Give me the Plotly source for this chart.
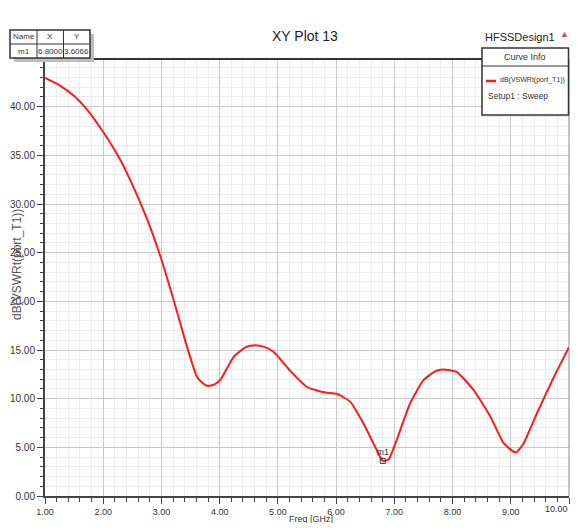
import plotly.graph_objects as go

# Sweep data
freq_ghz = [1.00, 1.25, 1.50, 1.75, 2.00, 2.25, 2.50, 2.75, 3.00, 3.25, 3.44, 3.61,
            3.72, 3.81, 3.92, 4.02, 4.24, 4.45, 4.61, 4.78, 4.93, 5.22, 5.50, 5.79,
            6.01, 6.24, 6.47, 6.70, 6.80, 6.90, 7.04, 7.27, 7.50, 7.70, 7.84, 8.07,
            8.36, 8.65, 8.88, 9.05, 9.10, 9.22, 9.45, 9.73, 10.00]
vswr_db = [42.95, 42.2, 41.1, 39.5, 37.4, 35.0, 32.0, 28.5, 24.3, 19.3, 15.3, 12.25,
           11.55, 11.3, 11.5, 12.0, 14.3, 15.3, 15.5, 15.3, 14.8, 12.8, 11.2, 10.65,
           10.5, 9.7, 7.45, 4.7, 3.6066, 3.75, 5.75, 9.5, 11.9, 12.8, 13.0, 12.75,
           10.9, 8.15, 5.4, 4.55, 4.5, 5.4, 8.5, 12.1, 15.3]

marker_name = "m1"
marker_x = 6.80
marker_y = 3.6066

x_ticks = [1, 2, 3, 4, 5, 6, 7, 8, 9, 10]
y_ticks = [0, 5, 10, 15, 20, 25, 30, 35, 40]

FONT = "Liberation Sans, Arial, sans-serif"

# the page has an 8px body margin; size the figure so no scrollbars appear
OFF = 8
W, H = 578 - 2 * OFF, 531 - 2 * OFF
# plot area in page pixels
L, R, T, B = 45, 569, 59, 496


def px(x):
    return (x - L) / (R - L)


def py(y):
    return (B - y) / (B - T)


fig = go.Figure()

fig.add_trace(go.Scatter(
    x=freq_ghz, y=vswr_db, mode="lines",
    line=dict(color="#ff1a1a", width=2, shape="spline", smoothing=0.5),
    showlegend=False, hoverinfo="x+y",
))

fig.add_trace(go.Scatter(
    x=[marker_x], y=[marker_y], mode="markers+text",
    marker=dict(symbol="square-open", size=5, color="#333333", line=dict(width=1)),
    text=[marker_name], textposition="top center",
    textfont=dict(family=FONT, size=9, color="#333333"),
    showlegend=False,
))

# last x label would spill past the page edge, so it is drawn right-aligned below
x_ticktext = [f"{v:.2f}" for v in x_ticks[:-1]] + [""]

fig.update_xaxes(
    range=[1, 10], tickvals=x_ticks, ticktext=x_ticktext,
    showgrid=True, gridcolor="#c8c8c8", gridwidth=1,
    ticks="outside", ticklen=6, tickcolor="#444444",
    showline=True, linecolor="#444444", linewidth=2,
    minor=dict(dtick=0.2, showgrid=True, gridcolor="#ececec", ticks="outside",
               ticklen=4, tickcolor="#444444"),
    tickfont=dict(family=FONT, size=9, color="#333333"),
    automargin=False, zeroline=False,
)
fig.update_yaxes(
    range=[0, 44.9], tickvals=y_ticks, ticktext=[f"{v:.2f}" for v in y_ticks],
    showgrid=True, gridcolor="#c8c8c8", gridwidth=1,
    ticks="outside", ticklen=6, tickcolor="#444444",
    showline=True, linecolor="#444444", linewidth=2,
    minor=dict(dtick=1, showgrid=True, gridcolor="#ececec", ticks="outside",
               ticklen=3, tickcolor="#444444"),
    tickfont=dict(family=FONT, size=10, color="#333333"),
    automargin=False, zeroline=False,
)

shapes = []
# right border and top line
shapes.append(dict(type="line", xref="paper", yref="paper", x0=1, x1=1, y0=0, y1=1,
                   line=dict(color="#888888", width=1)))
shapes.append(dict(type="line", xref="paper", yref="paper", x0=px(90), x1=px(482), y0=1, y1=1,
                   line=dict(color="#333333", width=2)))

# marker table with shadow
tx0, tx1, ty0, ty1 = 10, 90, 30, 58
shapes.append(dict(type="rect", xref="paper", yref="paper", x0=px(tx0 + 4), x1=px(tx1 + 4),
                   y0=py(ty0 + 4), y1=py(ty1 + 4), fillcolor="#bdbdbd", line=dict(width=0)))
shapes.append(dict(type="rect", xref="paper", yref="paper", x0=px(tx0), x1=px(tx1),
                   y0=py(ty0), y1=py(ty1), fillcolor="white", line=dict(color="#333333", width=1.5)))
shapes.append(dict(type="line", xref="paper", yref="paper", x0=px(tx0), x1=px(tx1),
                   y0=py(44), y1=py(44), line=dict(color="#333333", width=1)))
for cx in (37, 63.5):
    shapes.append(dict(type="line", xref="paper", yref="paper", x0=px(cx), x1=px(cx),
                       y0=py(ty0), y1=py(ty1), line=dict(color="#333333", width=1)))

# curve info box
bx0, bx1 = 482, 568.5
shapes.append(dict(type="rect", xref="paper", yref="paper", x0=px(bx0), x1=px(bx1), y0=py(48), y1=py(115),
                   fillcolor="white", line=dict(color="#333333", width=1.5)))
shapes.append(dict(type="line", xref="paper", yref="paper", x0=px(bx0), x1=px(bx1), y0=py(66), y1=py(66),
                   line=dict(color="#333333", width=1)))
shapes.append(dict(type="line", xref="paper", yref="paper", x0=px(486), x1=px(496), y0=py(81), y1=py(81),
                   line=dict(color="#ff1a1a", width=2.5)))

annotations = []


def label(x, y, text, size=10, xanchor="center", color="#333333", angle=0):
    annotations.append(dict(xref="paper", yref="paper", x=px(x), y=py(y), text=text,
                            showarrow=False, xanchor=xanchor, yanchor="middle", textangle=angle,
                            font=dict(family=FONT, size=size, color=color)))


label(23.5, 37, "Name", 8)
label(50.25, 37, "X", 8)
label(76.75, 37, "Y", 8)
label(23.5, 51, "m1", 8)
label(50.25, 51, f"{marker_x:.4f}", 8)
label(76.75, 51, f"{marker_y:.4f}", 8)

label((bx0 + bx1) / 2, 57, "Curve Info", 9)
label(498, 80, "dB(VSWRt(port_T1))", 7, xanchor="left")
label(486, 96, "Setup1 : Sweep", 8.5, xanchor="left")

label(305, 36, "XY Plot 13", 14, color="#222222")
label(557, 37, "HFSSDesign1", 11, xanchor="right", color="#222222")
label(564, 34, "▲", 9, color="#d04a4a")

label(17, 265, "dB(VSWRt(port_T1))", 12, color="#555555", angle=-90)
label(311, 519, "Freq [GHz]", 9, color="#333333")
label(570, 509, f"{x_ticks[-1]:.2f}", 9, xanchor="right")

fig.update_layout(
    width=W, height=H,
    margin=dict(l=L - OFF, r=W - (R - OFF), t=T - OFF, b=H - (B - OFF)),
    plot_bgcolor="white", paper_bgcolor="white",
    shapes=shapes, annotations=annotations,
    font=dict(family=FONT, color="#333333"),
)

fig.write_html("out.html")
